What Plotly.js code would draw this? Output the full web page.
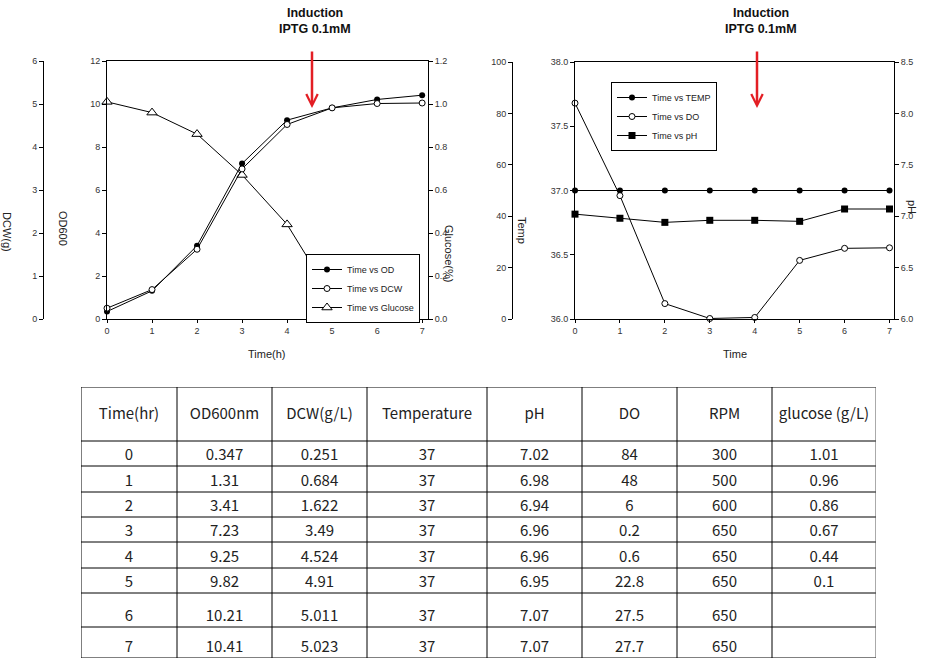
<!DOCTYPE html>
<html><head><meta charset="utf-8">
<script src="https://cdn.plot.ly/plotly-3.0.1.min.js"></script>
<style>html,body{margin:0;padding:0;background:#fff}#chart{width:933px;height:668px}</style>
</head><body><div id="chart"></div>
<script>
// ---------- data ----------
const timeHr = [0, 1, 2, 3, 4, 5, 6, 7];
const od600 = [0.347, 1.31, 3.41, 7.23, 9.25, 9.82, 10.21, 10.41];
const dcw = [0.251, 0.684, 1.622, 3.49, 4.524, 4.91, 5.011, 5.023];
const temperature = [37, 37, 37, 37, 37, 37, 37, 37];
const pH = [7.02, 6.98, 6.94, 6.96, 6.96, 6.95, 7.07, 7.07];
const dO = [84, 48, 6, 0.2, 0.6, 22.8, 27.5, 27.7];
const rpm = [300, 500, 600, 650, 650, 650, 650, 650];
const glucose = [1.01, 0.96, 0.86, 0.67, 0.44, 0.1];
const tableHeaders = ["Time(hr)", "OD600nm", "DCW(g/L)", "Temperature", "pH", "DO", "RPM", "glucose (g/L)"];
const tableColumns = [timeHr, od600, dcw, temperature, pH, dO, rpm, glucose];

// ---------- layout helpers ----------
const W = 933, H = 668;
const px = v => v / W;
const py = v => 1 - v / H;
const colEdges = [81, 177, 272, 367, 487, 582, 677, 772, 876];
const rowEdges = [387, 441, 466, 492, 517, 542, 568, 593, 627, 658];

const sans = 'Liberation Sans, Arial, sans-serif';
const tickFont = {family: sans, size: 9, color: '#333'};
const baseAxis = {showgrid: false, zeroline: false, showline: true, linecolor: '#000', linewidth: 1,
  ticks: 'outside', ticklen: 4, tickcolor: '#000', tickwidth: 1, tickfont: tickFont, fixedrange: true};
const lineStyle = {color: '#000', width: 1};

const traces = [];
function series(x, y, xa, ya, name, marker, legend) {
  traces.push({x: x, y: y, xaxis: xa, yaxis: ya, name: name, mode: 'lines+markers', line: lineStyle,
    marker: marker, legend: legend, cliponaxis: false, hoverinfo: 'x+y'});
}
const openLine = {color: '#000', width: 1};
series(timeHr, od600, 'x', 'y', 'Time vs OD', {symbol: 'circle', size: 6, color: '#000'}, 'legend');
series(timeHr, dcw, 'x', 'y3', 'Time vs DCW', {symbol: 'circle', size: 6, color: '#fff', line: openLine}, 'legend');
series(timeHr.slice(0, glucose.length), glucose, 'x', 'y2', 'Time vs Glucose', {symbol: 'triangle-up', size: 9, color: '#fff', line: openLine}, 'legend');
series(timeHr, temperature, 'x2', 'y4', 'Time vs TEMP', {symbol: 'circle', size: 6, color: '#000'}, 'legend2');
series(timeHr, dO, 'x2', 'y5', 'Time vs DO', {symbol: 'circle', size: 6, color: '#fff', line: openLine}, 'legend2');
series(timeHr, pH, 'x2', 'y6', 'Time vs pH', {symbol: 'square', size: 7, color: '#000'}, 'legend2');

// ---------- table text ----------
const cellFont = {family: 'Noto Sans CJK KR, Noto Sans, sans-serif', size: 15, color: '#222'};
const hx = [], hy = [], ht = [];
tableHeaders.forEach((h, c) => {
  hx.push((colEdges[c] + colEdges[c + 1]) / 2);
  hy.push((rowEdges[0] + rowEdges[1]) / 2 + 1);
  ht.push(h);
});
traces.push({x: hx, y: hy, text: ht, mode: 'text', xaxis: 'x3', yaxis: 'y7', textfont: cellFont,
  showlegend: false, hoverinfo: 'skip', cliponaxis: false});
tableColumns.forEach((col, c) => {
  const xs = [], ys = [], ts = [];
  col.forEach((v, r) => {
    xs.push((colEdges[c] + colEdges[c + 1]) / 2);
    ys.push(rowEdges[r + 2] - 10);
    ts.push(String(v));
  });
  traces.push({x: xs, y: ys, text: ts, mode: 'text', xaxis: 'x3', yaxis: 'y7', textfont: cellFont,
    showlegend: false, hoverinfo: 'skip', cliponaxis: false});
});

const shapes = [];
rowEdges.forEach((yv, i) => {
  const thick = i === 4;
  shapes.push({type: 'line', xref: 'x3', yref: 'y7', x0: colEdges[0], x1: colEdges[colEdges.length - 1], y0: yv, y1: yv,
    line: {color: thick ? '#808080' : '#000', width: thick ? 2 : 1}});
});
colEdges.forEach((xv, i) => {
  shapes.push({type: 'line', xref: 'x3', yref: 'y7', x0: xv, x1: xv, y0: rowEdges[0], y1: rowEdges[rowEdges.length - 1],
    line: {color: i === colEdges.length - 1 ? '#555' : '#000', width: 1}});
});

// ---------- annotations ----------
const titleFont = {family: sans, size: 11, color: '#222'};
const boldFont = {family: sans, size: 12.5, color: '#111', weight: 'bold'};
function lbl(text, x, y, angle, font) {
  return {text: text, x: px(x), y: py(y), xref: 'paper', yref: 'paper', showarrow: false, textangle: angle || 0,
    xanchor: 'center', yanchor: 'middle', font: font || titleFont};
}
function arrow(x) {
  return {text: '', x: px(x), y: py(108), xref: 'paper', yref: 'paper', ax: 0, ay: -58, showarrow: true,
    arrowhead: 5, arrowsize: 0.9, arrowwidth: 2.5, arrowcolor: '#e31e24', standoff: 0, startstandoff: 0};
}
const annotations = [
  lbl('OD600', 63, 228, 90), lbl('DCW(g)', 7, 232, 90), lbl('Glucose(%)', 449, 253, 90),
  lbl('Time(h)', 266, 354, 0), lbl('Temp', 522, 230, 90), lbl('pH', 912, 207, 90), lbl('Time', 735, 354, 0),
  lbl('Induction', 315, 13, 0, boldFont), lbl('IPTG 0.1mM', 315, 29, 0, boldFont),
  lbl('Induction', 761, 13, 0, boldFont), lbl('IPTG 0.1mM', 761, 29, 0, boldFont),
  arrow(312), arrow(757)
];

const legendBase = {xanchor: 'left', yanchor: 'top', bgcolor: '#fff', bordercolor: '#000', borderwidth: 1,
  font: {family: sans, size: 9, color: '#222'}, itemwidth: 30, tracegroupgap: 0, traceorder: 'normal'};

const layout = {
  width: W, height: H, margin: {l: 0, r: 0, t: 0, b: 0}, paper_bgcolor: '#fff', plot_bgcolor: 'rgba(0,0,0,0)',
  showlegend: true,
  legend: Object.assign({}, legendBase, {x: px(306), y: py(254)}),
  legend2: Object.assign({}, legendBase, {x: px(611), y: py(82)}),
  xaxis: Object.assign({}, baseAxis, {domain: [px(107), px(428)], range: [0, 7.13], dtick: 1, tick0: 0, anchor: 'y', mirror: true, ticklen: 3}),
  yaxis: Object.assign({}, baseAxis, {domain: [py(319), py(61)], range: [0, 12], dtick: 2, anchor: 'x', mirror: true}),
  yaxis2: Object.assign({}, baseAxis, {overlaying: 'y', side: 'right', anchor: 'x', range: [0, 1.2], dtick: 0.2, tickformat: '.1f'}),
  yaxis3: Object.assign({}, baseAxis, {overlaying: 'y', side: 'left', anchor: 'free', position: px(43), range: [0, 6], dtick: 1}),
  xaxis2: Object.assign({}, baseAxis, {domain: [px(575), px(894)], range: [0, 7.1], dtick: 1, tick0: 0, anchor: 'y4', mirror: true, ticklen: 3}),
  yaxis4: Object.assign({}, baseAxis, {domain: [py(319), py(62)], range: [36, 38], dtick: 0.5, tickformat: '.1f', anchor: 'x2', mirror: true}),
  yaxis5: Object.assign({}, baseAxis, {overlaying: 'y4', side: 'left', anchor: 'free', position: px(512), range: [0, 100], dtick: 20}),
  yaxis6: Object.assign({}, baseAxis, {overlaying: 'y4', side: 'right', anchor: 'x2', range: [6, 8.5], dtick: 0.5, tickformat: '.1f'}),
  xaxis3: {domain: [px(colEdges[0]), px(colEdges[colEdges.length - 1])], range: [colEdges[0], colEdges[colEdges.length - 1]], visible: false, fixedrange: true, anchor: 'y7'},
  yaxis7: {domain: [py(rowEdges[rowEdges.length - 1]), py(rowEdges[0])], range: [rowEdges[rowEdges.length - 1], rowEdges[0]], visible: false, fixedrange: true, anchor: 'x3'},
  shapes: shapes,
  annotations: annotations
};

Plotly.newPlot('chart', traces, layout, {displayModeBar: false, staticPlot: true});
</script></body></html>
